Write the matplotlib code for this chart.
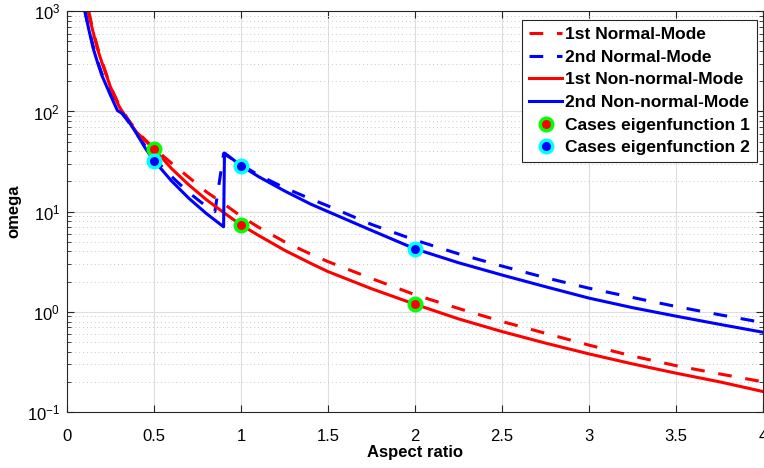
import matplotlib
matplotlib.use("Agg")
import matplotlib.pyplot as plt
import numpy as np

plt.rcParams['font.family'] = ['Liberation Sans', 'DejaVu Sans']

# 1st non-normal mode (solid red)
x_nn1 = [0.12, 0.15, 0.175, 0.2, 0.25, 0.3, 0.35, 0.4, 0.45, 0.5, 0.6, 0.7, 0.8, 0.9, 1.0,
         1.1, 1.25, 1.4, 1.5, 1.75, 2.0, 2.25, 2.5, 2.75, 3.0, 3.25, 3.5, 3.75, 4.0]
w_nn1 = [1000, 620, 420, 310, 175, 112, 82, 62, 51, 42.3, 27, 18.5, 13.2, 9.8, 7.36,
         5.8, 4.12, 3.05, 2.52, 1.7, 1.19, 0.85, 0.635, 0.487, 0.38, 0.302, 0.244, 0.2, 0.16]

# 1st normal mode (dashed red)
x_n1 = [0.125, 0.15, 0.175, 0.2, 0.25, 0.3, 0.35, 0.4, 0.45, 0.5, 0.6, 0.7, 0.8, 0.9, 1.0,
        1.1, 1.25, 1.4, 1.5, 1.75, 2.0, 2.25, 2.5, 2.75, 3.0, 3.25, 3.5, 3.75, 4.0]
w_n1 = [1000, 640, 440, 320, 178, 115, 84, 64, 52, 43, 30.5, 22, 15.8, 12.0, 9.0,
        7.0, 5.0, 3.77, 3.17, 2.15, 1.48, 1.08, 0.80, 0.61, 0.465, 0.362, 0.29, 0.24, 0.20]

# 2nd non-normal mode (solid blue)
x_nn2 = [0.103, 0.125, 0.15, 0.175, 0.2, 0.25, 0.29, 0.32, 0.35, 0.4, 0.45, 0.5, 0.6, 0.7,
         0.8, 0.9, 0.905, 1.0, 1.1, 1.25, 1.4, 1.5, 1.75, 2.0, 2.25, 2.5, 2.75, 3.0,
         3.25, 3.5, 3.75, 4.0]
w_nn2 = [1000, 660, 430, 310, 230, 145, 102, 95, 82, 60, 43, 32.3, 20.3, 13.6,
         9.6, 7.05, 38.5, 28.8, 22.4, 16.1, 11.9, 10.0, 6.5, 4.25, 3.09, 2.33, 1.78, 1.37,
         1.10, 0.905, 0.75, 0.625]

# 2nd normal mode (dashed blue)
x_n2 = [0.1, 0.125, 0.15, 0.175, 0.2, 0.25, 0.3, 0.35, 0.4, 0.45, 0.5, 0.6, 0.7, 0.8, 0.85,
        0.9, 1.0, 1.1, 1.25, 1.4, 1.5, 1.75, 2.0, 2.25, 2.5, 2.75, 3.0, 3.25, 3.5, 3.75, 4.0]
w_n2 = [1050, 680, 450, 320, 240, 150, 104, 80, 60, 45, 34, 22.5, 15.5, 11.3, 10.0,
        38, 29.5, 23.2, 17.3, 13.4, 11.4, 7.45, 5.2, 3.79, 2.86, 2.19, 1.72, 1.39, 1.13,
        0.935, 0.78]

# selected cases
case_x = [0.5, 1, 2]
case1_w = [42.3, 7.36, 1.19]
case2_w = [32.3, 28.8, 4.25]

fig = plt.figure(figsize=(7.64, 4.68), dpi=100)
ax = fig.add_axes([0.0877, 0.1197, 0.9110, 0.8562])

lw = 2.2
ax.plot(x_n1, w_n1, color='red', lw=lw, dashes=(4.5, 4.5), label='1st Normal-Mode')
ax.plot(x_n2, w_n2, color='blue', lw=lw, dashes=(4.5, 4.5), label='2nd Normal-Mode')
ax.plot(x_nn1, w_nn1, color='red', lw=lw, label='1st Non-normal-Mode')
ax.plot(x_nn2, w_nn2, color='blue', lw=lw, label='2nd Non-normal-Mode')
ax.plot(case_x, case1_w, 'o', color='red', mec=(0, 1, 0), ms=9, mew=2.5,
        label='Cases eigenfunction 1')
ax.plot(case_x, case2_w, 'o', color='blue', mec=(0, 1, 1), ms=9, mew=2.5,
        label='Cases eigenfunction 2')

ax.set_yscale('log')
ax.set_xlim(0, 4)
ax.set_ylim(0.1, 1000)
ax.set_xticks(np.arange(0, 4.01, 0.5))
ax.set_xticklabels(['0', '0.5', '1', '1.5', '2', '2.5', '3', '3.5', '4'])

ax.grid(True, which='major', color='#dedede', lw=0.8, ls='-')
ax.grid(True, which='minor', axis='y', color='#c8c8c8', lw=0.7, ls=(0, (1, 3)))
ax.set_axisbelow(True)
ax.tick_params(which='both', direction='in', top=True, right=True, colors='#262626',
               labelsize=12, labelcolor='black')
ax.tick_params(which='major', length=5)
ax.tick_params(which='minor', length=3)
ax.tick_params(axis='x', pad=12)
ax.tick_params(axis='y', pad=5)
for s in ax.spines.values():
    s.set_color('#262626')
    s.set_linewidth(0.8)

ax.set_xlabel('Aspect ratio', fontsize=12, fontweight='bold', labelpad=1)
ax.set_ylabel('omega', fontsize=12, fontweight='bold', labelpad=4)

leg = ax.legend(loc='upper right', bbox_to_anchor=(0.991, 0.978), borderaxespad=0,
                prop={'weight': 'bold', 'size': 12.5}, handlelength=1.9,
                handletextpad=0.15, labelspacing=0.43, borderpad=0.4,
                fancybox=False, framealpha=1, edgecolor='#262626')
leg.get_frame().set_linewidth(0.8)

fig.savefig('out.png', dpi=100)
